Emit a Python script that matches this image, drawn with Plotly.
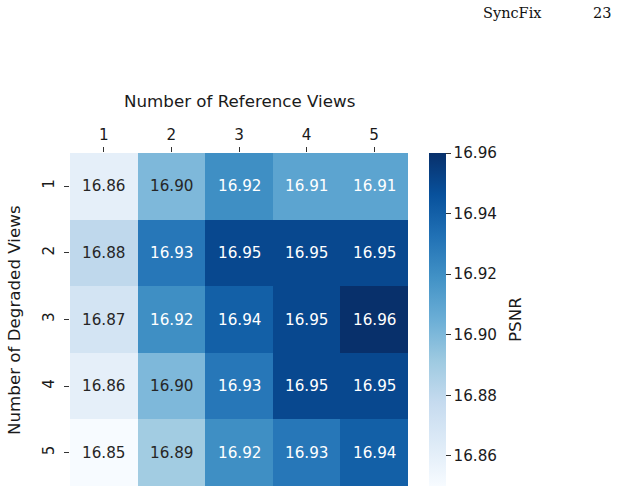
import plotly.graph_objects as go

ref_views = [1, 2, 3, 4, 5]
deg_views = [1, 2, 3, 4, 5]
psnr = [
    [16.86, 16.90, 16.92, 16.91, 16.91],
    [16.88, 16.93, 16.95, 16.95, 16.95],
    [16.87, 16.92, 16.94, 16.95, 16.96],
    [16.86, 16.90, 16.93, 16.95, 16.95],
    [16.85, 16.89, 16.92, 16.93, 16.94],
]
cbar_ticks = [16.86, 16.88, 16.90, 16.92, 16.94, 16.96]

blues = ["#f7fbff", "#deebf7", "#c6dbef", "#9ecae1", "#6baed6",
         "#4292c6", "#2171b5", "#08519c", "#08306b"]
colorscale = [[i / (len(blues) - 1), c] for i, c in enumerate(blues)]

FONT = "DejaVu Sans"
FS = 15.2
FT = 16.7
TXT = "#1a1a1a"
zmin, zmax = 16.85, 16.96

# plot area in pixels (for placing titles)
L, R, T, B = 70, 408, 153, 486
def px(x):
    return (x - L) / (R - L)
def py(y):
    return (B - y) / (B - T)

fig = go.Figure(go.Heatmap(
    z=psnr, x=ref_views, y=deg_views,
    colorscale=colorscale, zmin=zmin, zmax=zmax,
    xgap=0, ygap=0,
    colorbar=dict(
        x=px(429), xanchor="left", xref="paper", xpad=0, ypad=0,
        y=0.5, yanchor="middle", len=1.0, lenmode="fraction",
        thickness=17, outlinewidth=0,
        tickvals=cbar_ticks, ticktext=[f"{v:.2f}" for v in cbar_ticks],
        ticks="outside", ticklen=5, tickcolor="#333", tickwidth=1,
        tickfont=dict(family=FONT, size=FS, color=TXT),
    ),
    hoverinfo="skip",
))

for i, row in enumerate(psnr):
    for j, v in enumerate(row):
        fig.add_annotation(
            x=ref_views[j], y=deg_views[i], text=f"{v:.2f}",
            showarrow=False, xref="x", yref="y",
            font=dict(family=FONT, size=FS,
                      color="white" if v > 16.905 else "#262626"),
        )

# axis / colorbar titles
fig.add_annotation(text="Number of Reference Views", xref="paper", yref="paper",
                   x=px(239.5), y=py(101), showarrow=False,
                   xanchor="center", yanchor="middle",
                   font=dict(family=FONT, size=FT, color=TXT))
fig.add_annotation(text="Number of Degraded Views", xref="paper", yref="paper",
                   x=px(14), y=py(320), showarrow=False, textangle=-90,
                   xanchor="center", yanchor="middle",
                   font=dict(family=FONT, size=FT, color=TXT))
fig.add_annotation(text="PSNR", xref="paper", yref="paper",
                   x=px(515), y=py(320), showarrow=False, textangle=-90,
                   xanchor="center", yanchor="middle",
                   font=dict(family=FONT, size=FT, color=TXT))

# page header (LaTeX style)
fig.add_annotation(text="SyncFix", xref="paper", yref="paper",
                   x=px(512), y=py(13), showarrow=False,
                   xanchor="center", yanchor="middle",
                   font=dict(family="DejaVu Serif", size=14.5, color="#111"))
fig.add_annotation(text="23", xref="paper", yref="paper",
                   x=px(602), y=py(13), showarrow=False,
                   xanchor="center", yanchor="middle",
                   font=dict(family="DejaVu Serif", size=14.5, color="#111"))

fig.update_layout(
    width=617, height=493,
    margin=dict(l=L, r=617 - R, t=T, b=493 - B, autoexpand=False),
    paper_bgcolor="white", plot_bgcolor="white",
    font=dict(family=FONT, size=FS, color=TXT),
    xaxis=dict(
        side="top", showgrid=False, zeroline=False, showline=False,
        range=[0.5, 5.5], tickvals=ref_views,
        ticks="outside", ticklen=5, tickcolor="#333", tickwidth=1,
        ticklabelstandoff=1,
        tickfont=dict(family=FONT, size=FS, color=TXT),
    ),
    yaxis=dict(
        showgrid=False, zeroline=False, showline=False,
        range=[5.5, 0.5], tickvals=deg_views,
        ticks="outside", ticklen=5, tickcolor="#333", tickwidth=1,
        tickangle=-90, ticklabelstandoff=4,
        tickfont=dict(family=FONT, size=FS, color=TXT),
    ),
)

fig.write_html("out.html")
